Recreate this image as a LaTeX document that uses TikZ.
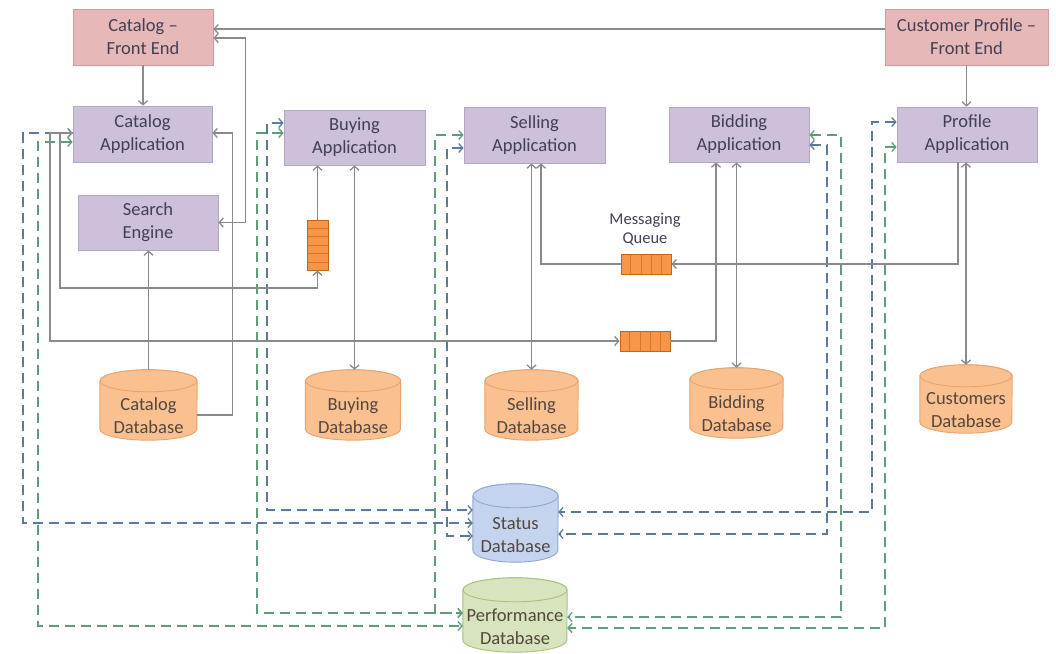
\documentclass[tikz,border=0pt]{standalone}
\usepackage{fontspec}
\setmainfont{Carlito}
\usetikzlibrary{arrows.meta,calc}
\definecolor{lineC}{HTML}{8A8A8A}
\definecolor{blueD}{HTML}{5B7A99}
\definecolor{greenD}{HTML}{5F9C7A}
\definecolor{txt}{HTML}{433F55}
\definecolor{txtDB}{HTML}{54463F}
\definecolor{feF}{HTML}{E6B9B8}
\definecolor{feB}{HTML}{D09C9B}
\definecolor{appF}{HTML}{CCC0DA}
\definecolor{appB}{HTML}{B3A7C3}
\definecolor{dbF}{HTML}{FAC090}
\definecolor{dbB}{HTML}{E9A46C}
\definecolor{statF}{HTML}{C5D4EE}
\definecolor{statB}{HTML}{8FA8D0}
\definecolor{perfF}{HTML}{D7E4BD}
\definecolor{perfB}{HTML}{A9C07E}
\definecolor{qF}{HTML}{F79646}
\definecolor{qB}{HTML}{C0651C}
\definecolor{qL}{HTML}{D9762E}
\newcommand\apfont{\fontsize{18.5}{23}\selectfont}
\newcommand\mqfont{\fontsize{16.5}{19}\selectfont}
\newcommand\dbcyl[8]{%
  \node[dbbase, minimum width=#4pt, minimum height=#5pt] (#1) at (#2,#3) {};
  \path[#7] ([yshift=-#6pt]#1.north west) -- ([yshift=#6pt]#1.south west)
     arc[start angle=180, end angle=360, x radius=0.5*#4pt, y radius=#6pt]
     -- ([yshift=-#6pt]#1.north east)
     arc[start angle=0, end angle=180, x radius=0.5*#4pt, y radius=#6pt] -- cycle;
  \path[#7] ([yshift=-#6pt]#1.north) ellipse[x radius=0.5*#4pt, y radius=#6pt];
  \node[dbtext] (#1t) at ([yshift=-#6pt]#1.center) {#8};
}
\begin{document}
\begin{tikzpicture}[x=1pt,y=-1pt,
  >={Straight Barb[length=4pt,width=9pt]},
  fe/.style={rectangle, draw=feB, fill=feF, line width=0.8pt, minimum width=140pt, minimum height=56pt, align=center, font=\apfont, text=txt, inner sep=0pt},
  app/.style={rectangle, draw=appB, fill=appF, line width=0.8pt, minimum width=140pt, minimum height=55pt, align=center, font=\apfont, text=txt, inner sep=0pt},
  dbbase/.style={rectangle, draw=none, inner sep=0pt},
  dbtext/.style={font=\apfont, text=txtDB, align=center, inner sep=0pt},
  orangedb/.style={fill=dbF, draw=dbB, line width=0.9pt},
  statusdb/.style={fill=statF, draw=statB, line width=0.9pt},
  perfdb/.style={fill=perfF, draw=perfB, line width=0.9pt},
  queue/.style={rectangle, draw=qB, fill=qF, line width=0.9pt, inner sep=0pt},
  qline/.style={draw=qL, line width=0.8pt},
  conn/.style={draw=lineC, line width=1.3pt},
  dashB/.style={draw=blueD, line width=1.3pt, dash pattern=on 10pt off 6pt},
  dashG/.style={draw=greenD, line width=1.3pt, dash pattern=on 10pt off 6pt}]
\fill[white] (0,0) rectangle (1056,653);
\useasboundingbox (0,0) rectangle (1056,653);

% front ends
\node[fe] (cfe) at (143,37) {Catalog –\\Front End};
\node[fe, minimum width=163pt] (pfe) at (966.5,37) {Customer Profile –\\Front End};

% applications
\node[app, minimum width=139pt, minimum height=56pt] (catapp) at (142.5,134) {Catalog\\Application};
\node[app] (search) at (148,222.5) {Search\\Engine};
\node[app, minimum width=141pt] (buyapp) at (354.5,137.5) {Buying\\Application};
\node[app, minimum width=141pt, minimum height=56pt] (sellapp) at (534.5,135) {Selling\\Application};
\node[app] (bidapp) at (739,134.5) {Bidding\\Application};
\node[app] (profapp) at (967,134.5) {Profile\\Application};

% queues
\node[queue, minimum width=21pt, minimum height=50pt] (q0) at (317.5,245) {};
\foreach \k in {1,...,5} \draw[qline] ($(q0.north west)!\k/6!(q0.south west)$) -- ($(q0.north east)!\k/6!(q0.south east)$);
\node[queue, minimum width=50pt, minimum height=20pt] (q1) at (646,264) {};
\foreach \k in {1,...,4} \draw[qline] ($(q1.north west)!\k/5!(q1.north east)$) -- ($(q1.south west)!\k/5!(q1.south east)$);
\node[queue, minimum width=50pt, minimum height=20pt] (q2) at (645,341) {};
\foreach \k in {1,...,4} \draw[qline] ($(q2.north west)!\k/5!(q2.north east)$) -- ($(q2.south west)!\k/5!(q2.south east)$);
\node[font=\mqfont, text=txt, align=center, inner sep=0pt] (mqlbl) at (645,229.5) {Messaging\\Queue};

% databases
\dbcyl{catdb}{148.5}{405}{97}{70}{11}{orangedb}{Catalog\\Database}
\dbcyl{buydb}{353}{405}{95}{70}{11}{orangedb}{Buying\\Database}
\dbcyl{selldb}{531.5}{405}{93}{70}{11}{orangedb}{Selling\\Database}
\dbcyl{biddb}{736.5}{403}{93}{70}{11}{orangedb}{Bidding\\Database}
\dbcyl{custdb}{966}{399}{92}{68}{11}{orangedb}{Customers\\Database}
\dbcyl{statdb}{515.5}{523}{85}{78}{12}{statusdb}{Status\\Database}
\dbcyl{perfdb}{515}{615}{104}{74}{12}{perfdb}{Performance\\Database}

% dashed: status database (blue)
\draw[dashB,<->] ([yshift=1pt]catapp.west) -| (23,523) -- (statdb.west);
\draw[dashB,<->] ([yshift=14.5pt]buyapp.west) -| (267,510) -- ([yshift=13pt]statdb.west);
\draw[dashB,<->] ([yshift=-13pt]sellapp.west) -| (447,536) -- ([yshift=-13pt]statdb.west);
\draw[dashB,<->] ([yshift=12.5pt]profapp.west) -| (872,512) -- ([yshift=11pt]statdb.east);
\draw[dashB,<->] ([yshift=-10.5pt]bidapp.east) -| (827,534) -- ([yshift=-11pt]statdb.east);

% dashed: performance database (green)
\draw[dashG,<->] ([yshift=-8pt]catapp.west) -| (38,626) -- ([yshift=-11pt]perfdb.west);
\draw[dashG,<->] ([yshift=4.5pt]buyapp.west) -| (257,613) -- ([yshift=2pt]perfdb.west);
\draw[dashG,<->] (sellapp.west) -| (435,613) -- ([yshift=2pt]perfdb.west);
\draw[dashG,<->] ([yshift=-0.5pt]bidapp.east) -| (841,617) -- ([yshift=-2pt]perfdb.east);
\draw[dashG,<->] ([yshift=-12.5pt]profapp.west) -| (885,628) -- ([yshift=-13pt]perfdb.east);

% solid connectors
\draw[conn,->] ([yshift=8pt]pfe.west) -- ([yshift=8pt]cfe.east);
\draw[conn,<->] ([yshift=-1pt]cfe.east) -- ++(32,0) |- (search.east);
\draw[conn,->] (cfe.south) -- (cfe.south |- catapp.north);
\draw[conn,->] ([yshift=-10pt]catdb.east) -- ++(35,0) |- ([yshift=1pt]catapp.east);
\draw[conn,->] (catdb.north) -- (catdb.north |- search.south);
\draw[conn,->] ([yshift=1pt]catapp.west) -| (60,288) -| (q0.south);
\draw[conn,->] ([yshift=1pt]catapp.west) -| (50,341) -- (q2.west);
\draw[conn,->] (q0.north) -- (q0.north |- buyapp.south);
\draw[conn,<->] (buyapp.south) -- (buyapp.south |- buydb.north);
\draw[conn,<->] (selldb.north |- sellapp.south) -- (selldb.north);
\draw[conn,<-] ([xshift=6.5pt]sellapp.south) |- (q1.west);
\draw[conn,->] ([xshift=-9pt]profapp.south) |- (q1.east);
\draw[conn,<->] (custdb.north |- profapp.south) -- (custdb.north);
\draw[conn,->] (q2.east) -| ([xshift=-23pt]bidapp.south);
\draw[conn,<->] (biddb.north |- bidapp.south) -- (biddb.north);
\draw[conn,->] (pfe.south) -- (pfe.south |- profapp.north);
\end{tikzpicture}
\end{document}
